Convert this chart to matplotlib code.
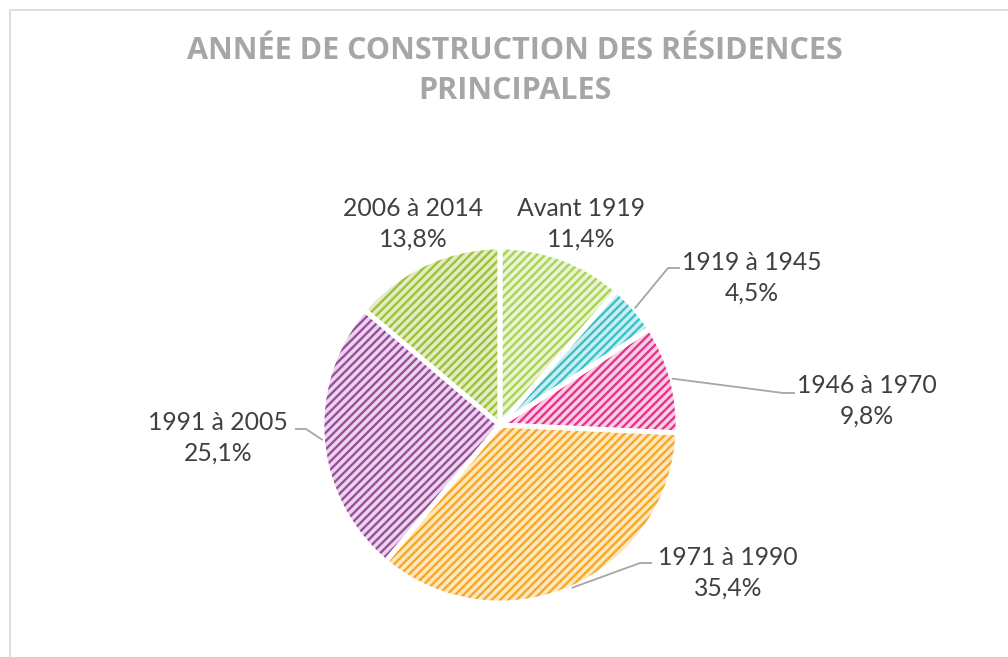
import matplotlib
matplotlib.use("Agg")
import matplotlib.pyplot as plt
import numpy as np

categories = ["Avant 1919", "1919 à 1945", "1946 à 1970", "1971 à 1990", "1991 à 2005", "2006 à 2014"]
values = [11.4, 4.5, 9.8, 35.4, 25.1, 13.8]
value_labels = ["11,4%", "4,5%", "9,8%", "35,4%", "25,1%", "13,8%"]
title = "ANNÉE DE CONSTRUCTION DES RÉSIDENCES\nPRINCIPALES"

main_colors = ["#a9d25a", "#3bc1c9", "#e7328b", "#f6a725", "#9a4b9e", "#9dc13d"]
fill_colors = ["#e9f4d0", "#cbeff1", "#fad0e5", "#fde7bf", "#ead6eb", "#e3edc2"]

W, H = 1008, 657
fig = plt.figure(figsize=(W / 100, H / 100), dpi=100)
ax = fig.add_axes([0, 0, 1, 1])

plt.rcParams["hatch.linewidth"] = 1.7

cx, cy, R = 500, H - 425, 178

wedges, _ = ax.pie(values, colors=fill_colors, startangle=90, counterclock=False,
                   center=(cx, cy), radius=R, frame=True,
                   wedgeprops=dict(linewidth=0, hatch="////"))
for w, c in zip(wedges, main_colors):
    w.set_edgecolor(c)
    w.set_linewidth(0)
ax.pie(values, colors=["none"] * len(values), startangle=90, counterclock=False,
       center=(cx, cy), radius=R, frame=True,
       wedgeprops=dict(linewidth=3.5, edgecolor="white"))
ax.set_xlim(0, W)
ax.set_ylim(0, H)
ax.axis("off")

# label positions (pixel, top-left origin)
label_pos = [(581, 224), (752, 278), (867, 401), (728, 573), (218, 438), (413, 224)]
# leader lines: (elbow, end) in pixels, None for no line
leaders = [None, ((668, 268), (680, 268)), ((783, 393), (795, 393)),
           ((640, 563), (652, 563)), ((306, 429), (295, 429)), None]

for i, (w, lab, vl) in enumerate(zip(wedges, categories, value_labels)):
    x, y = label_pos[i]
    ax.text(x, H - y, f"{lab}\n{vl}", ha="center", va="center", fontsize=17.8,
            color="#404040", family=["Lato", "DejaVu Sans"], linespacing=1.4)
    if leaders[i] is not None:
        ang = np.deg2rad((w.theta1 + w.theta2) / 2)
        sx, sy = cx + R * np.cos(ang), cy + R * np.sin(ang)
        (ex, ey), (fx, fy) = leaders[i]
        ax.plot([sx, ex, fx], [sy, H - ey, H - fy], color="#a6a6a6", lw=1.3,
                solid_capstyle="butt")

ax.text(515, H - 71, title, ha="center", va="center", fontsize=22, fontweight="bold",
        color="#a6a6a6", family=["Open Sans", "DejaVu Sans"],
        linespacing=1.4)

# chart border
ax.plot([9.5, 9.5, W + 5], [-5, H - 9.5, H - 9.5], color="#d9d9d9", lw=1.2)

fig.savefig("out.png", dpi=100)
